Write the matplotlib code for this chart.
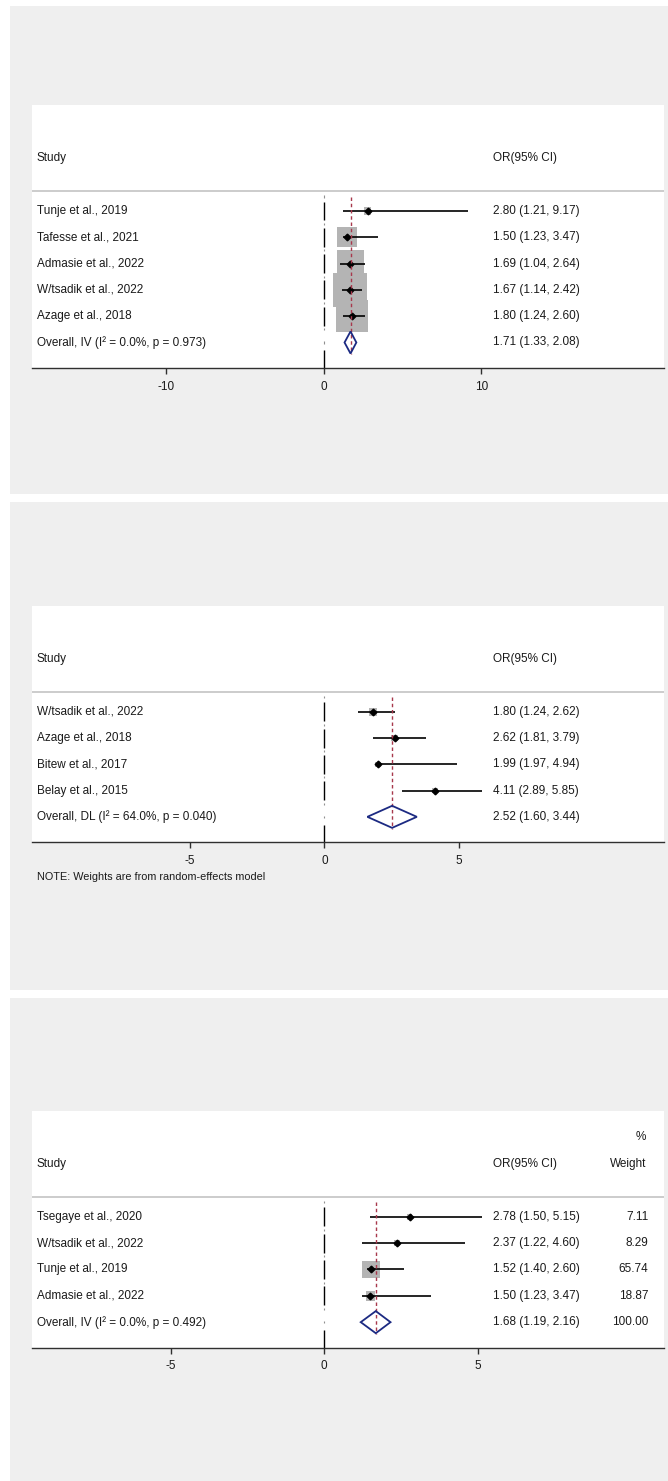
import numpy as np
import matplotlib
matplotlib.use("Agg")
import matplotlib.pyplot as plt
from matplotlib.patches import Polygon, Rectangle
from matplotlib.transforms import blended_transform_factory

plt.rcParams['font.family'] = ['Liberation Sans', 'DejaVu Sans']

# ---------------- data ----------------
studies1 = ['Tunje et al., 2019', 'Tafesse et al., 2021', 'Admasie et al., 2022',
            'W/tsadik et al., 2022', 'Azage et al., 2018']
or1 = [2.80, 1.50, 1.69, 1.67, 1.80]
lo1 = [1.21, 1.23, 1.04, 1.14, 1.24]
hi1 = [9.17, 3.47, 2.64, 2.42, 2.60]
w1 = [1.5, 11.9, 21.7, 34.4, 30.5]
overall1 = (1.71, 1.33, 2.08)
overall_label1 = 'Overall, IV (I\u00b2 = 0.0%, p = 0.973)'
ticks1 = [-10, 0, 10]

studies2 = ['W/tsadik et al., 2022', 'Azage et al., 2018', 'Bitew et al., 2017',
            'Belay et al., 2015']
or2 = [1.80, 2.62, 1.99, 4.11]
lo2 = [1.24, 1.81, 1.97, 2.89]
hi2 = [2.62, 3.79, 4.94, 5.85]
w2 = [36, 27, 18, 19]
overall2 = (2.52, 1.60, 3.44)
overall_label2 = 'Overall, DL (I\u00b2 = 64.0%, p = 0.040)'
ticks2 = [-5, 0, 5]
note2 = 'NOTE: Weights are from random-effects model'

studies3 = ['Tsegaye et al., 2020', 'W/tsadik et al., 2022', 'Tunje et al., 2019',
            'Admasie et al., 2022']
or3 = [2.78, 2.37, 1.52, 1.50]
lo3 = [1.50, 1.22, 1.40, 1.23]
hi3 = [5.15, 4.60, 2.60, 3.47]
w3 = [7.11, 8.29, 65.74, 18.87]
overall3 = (1.68, 1.19, 2.16)
overall_label3 = 'Overall, IV (I\u00b2 = 0.0%, p = 0.492)'
overall_weight3 = 100.00
ticks3 = [-5, 0, 5]

# ---------------- layout ----------------
W, H = 668, 1481
fig = plt.figure(figsize=(W / 100, H / 100), dpi=100, facecolor='white')

BG = '#efefef'
for (y0, y1) in [(6, 494), (502, 990), (998, 1481)]:
    fig.patches.append(Rectangle((10 / W, 1 - y1 / H), (W - 10) / W, (y1 - y0) / H,
                                 transform=fig.transFigure, facecolor=BG,
                                 edgecolor='none', zorder=-10))

FS = 8.5
TXT = '#1a1a1a'


def fmt_ci(e, l, h):
    return f'{e:.2f} ({l:.2f}, {h:.2f})'


def panel(top_px, bot_px, xlim, studies, est, lo, hi, wts, box_scale, ov, ov_label,
          ticks, weights_col=False, ov_w=None, note=None):
    ax = fig.add_axes([32 / W, 1 - bot_px / H, 632 / W, (bot_px - top_px) / H])
    ax.set_facecolor('white')
    n = len(studies)
    rows = np.arange(1, n + 1)
    ov_row = n + 1
    ax.set_xlim(*xlim)
    ax.set_ylim(ov_row + 0.97, -3.03)
    for s in ['top', 'left', 'right']:
        ax.spines[s].set_visible(False)
    ax.spines['bottom'].set_color('#303030')
    ax.spines['bottom'].set_linewidth(1.0)
    ax.set_yticks([])
    ax.set_xticks(ticks)
    ax.set_xticklabels([str(t) for t in ticks])
    ax.tick_params(axis='x', direction='out', length=4, width=1.0, color='#303030',
                   pad=5, labelsize=FS, labelcolor=TXT)

    # header separator
    ax.axhline(0.24, color='#c8c8c8', lw=1.3)

    # null line (broken segments)
    zeros = np.zeros(n)
    ax.vlines(zeros, rows - 0.36, rows + 0.36, color='black', lw=1.0, zorder=2)
    ax.vlines([0], [ov_row + 0.3], [ov_row + 0.97], color='black', lw=1.0, zorder=2)
    dots = np.concatenate([[0.45], rows + 0.5, [ov_row]])
    ax.vlines(np.zeros(len(dots)), dots - 0.04, dots + 0.04, color='#909090', lw=0.8,
              zorder=2)

    # weight boxes
    ax.scatter(est, rows, s=np.array(wts) * box_scale, marker='s', color='#b4b4b4',
               linewidths=0, zorder=3)
    # CI lines
    ax.hlines(rows, lo, hi, color='black', lw=1.2, zorder=4)
    ax.plot(est, rows, 'D', color='black', ms=3.4, zorder=5)

    # overall dashed line
    ax.vlines([ov[0]], [0.45], [ov_row + 0.45], colors='#a8384c',
              linestyles=[(0, (2.5, 2))], lw=1.0, zorder=6)
    # diamond
    ax.add_patch(Polygon([[ov[1], ov_row], [ov[0], ov_row - 0.42], [ov[2], ov_row],
                          [ov[0], ov_row + 0.42]], closed=True, fill=False,
                         edgecolor='#1c2a82', lw=1.3, zorder=7))

    tr = blended_transform_factory(ax.transAxes, ax.transData)
    xs, xo, xw = 0.0073, 0.729, 0.972
    kw = dict(transform=tr, va='center', fontsize=FS, color=TXT)
    ax.text(xs, -1.0, 'Study', ha='left', **kw)
    ax.text(xo, -1.0, 'OR(95% CI)', ha='left', **kw)
    for r, name, e, l, h in zip(rows, studies, est, lo, hi):
        ax.text(xs, r, name, ha='left', **kw)
        ax.text(xo, r, fmt_ci(e, l, h), ha='left', **kw)
    ax.text(xs, ov_row, ov_label, ha='left', **kw)
    ax.text(xo, ov_row, fmt_ci(*ov), ha='left', **kw)
    if weights_col:
        ax.text(xw, -2.03, '%', ha='right', **kw)
        ax.text(xw, -1.0, 'Weight', ha='right', **kw)
        for r, wv in zip(rows, wts):
            ax.text(xw + 0.003, r, f'{wv:.2f}', ha='right', **kw)
        ax.text(xw + 0.003, ov_row, f'{ov_w:.2f}', ha='right', **kw)
    if note:
        fig.text(36.6 / W, 1 - 877 / H, note, ha='left', va='center', fontsize=7.8,
                 color=TXT)
    return ax


panel(105, 368, (-18.5, 21.6), studies1, or1, lo1, hi1, w1, 17.4, overall1,
      overall_label1, ticks1)
panel(606, 842.3, (-10.87, 12.63), studies2, or2, lo2, hi2, w2, 0.85, overall2,
      overall_label2, ticks2, note=note2)
panel(1110.7, 1347.7, (-9.52, 11.07), studies3, or3, lo3, hi3, w3, 2.46, overall3,
      overall_label3, ticks3, weights_col=True, ov_w=overall_weight3)

fig.savefig('out.png', dpi=100, facecolor='white')
